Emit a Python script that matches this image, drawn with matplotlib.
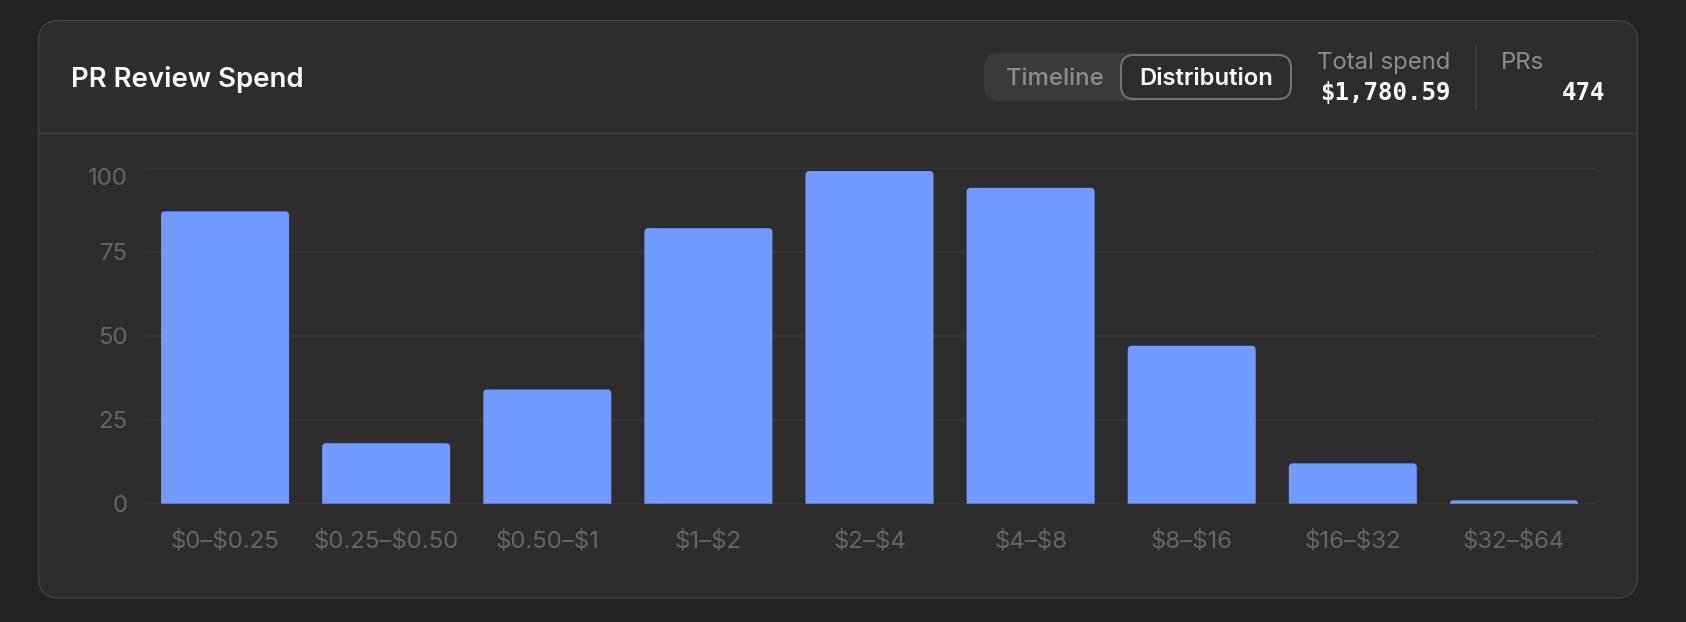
# PR review spend histogram, dark card layout
import matplotlib
matplotlib.use('Agg')
import matplotlib.pyplot as plt
from matplotlib.patches import FancyBboxPatch, PathPatch
from matplotlib.path import Path

plt.rc('font', family='Inter')

# Data (adds up to the 474 PRs in the header)
buckets = ['$0–$0.25', '$0.25–$0.50', '$0.50–$1', '$1–$2', '$2–$4',
           '$4–$8', '$8–$16', '$16–$32', '$32–$64']
pr_counts = [87, 18, 34, 82, 99, 94, 47, 12, 1]
y_ticks = [0, 25, 50, 75, 100]

W, H = 1686, 622
BG = '#232323'
CARD = '#2e2c2d'
BORDER = '#454445'
GRID = '#3b3a3b'
BAR = '#719bff'
MUTED = '#676667'
LABEL = '#8f8e8e'


def px(v):
    # font size / line width given in pixels, at dpi 100
    return v * 0.72


fig = plt.figure(figsize=(W / 100, H / 100), dpi=100, facecolor=BG)

# full figure layer in pixel coordinates for the card and header
bg = fig.add_axes([0, 0, 1, 1], zorder=0)
bg.set_xlim(0, W)
bg.set_ylim(H, 0)
bg.axis('off')


def rbox(x0, y0, x1, y1, r, fc, ec, lw=1.3):
    bg.add_patch(FancyBboxPatch((x0 + r, y0 + r), x1 - x0 - 2 * r, y1 - y0 - 2 * r,
                                boxstyle='round,pad=%f,rounding_size=%f' % (r, r),
                                fc=fc, ec=ec, lw=px(lw)))


rbox(38.5, 20.5, 1637.5, 598, 21, CARD, BORDER)
bg.plot([38.5, 1637.5], [133.3, 133.3], color=BORDER, lw=px(1.3), solid_capstyle='butt')
bg.plot([1475.7, 1475.7], [45, 109], color=BORDER, lw=px(1.5), solid_capstyle='butt')

bg.text(71, 87.3, 'PR Review Spend', color='white', fontsize=px(27.6), fontweight=600,
        ha='left', va='baseline')

# toggle
rbox(984, 53, 1291, 101, 15, '#3b3a3b', 'none', 0)
rbox(1121, 55, 1291, 99, 13, CARD, '#767576', 2)
bg.text(1055, 85, 'Timeline', color=LABEL, fontsize=px(24), fontweight=500,
        ha='center', va='baseline')
bg.text(1206, 85, 'Distribution', color='white', fontsize=px(23.8), fontweight=600,
        ha='center', va='baseline')

# header stats
bg.text(1450.5, 69, 'Total spend', color=LABEL, fontsize=px(23.8), ha='right', va='baseline')
bg.text(1451, 100.5, '$1,780.59', color='white', fontsize=px(24), family='DejaVu Sans Mono',
        fontweight='bold', ha='right', va='baseline', parse_math=False)
bg.text(1500.7, 69, 'PRs', color=LABEL, fontsize=px(24), ha='left', va='baseline')
bg.text(1605, 100.5, '474', color='white', fontsize=px(24), family='DejaVu Sans Mono',
        fontweight='bold', ha='right', va='baseline')

# plot area, 144.5..1594.5 px wide, y=100 at 167.7 px and y=0 at 503.7 px
ax = fig.add_axes([144.5 / W, 1 - 503.7 / H, 1450 / W, 336 / H], zorder=1)
ax.patch.set_visible(False)
ax.set_xlim(-0.5, len(buckets) - 0.5)
ax.set_ylim(0, 100)
for s in ax.spines.values():
    s.set_visible(False)
ax.set_axisbelow(True)
ax.yaxis.grid(True, color=GRID, lw=px(1.5))
ax.set_yticks(y_ticks)
ax.set_xticks(range(len(buckets)))
ax.set_xticklabels(buckets, parse_math=False)
ax.tick_params(axis='both', length=0, labelcolor=MUTED, labelsize=px(24))
ax.tick_params(axis='y', pad=px(17))
ax.tick_params(axis='x', pad=px(26))
# the top label hangs below its grid line
ax.get_yticklabels()[-1].set_verticalalignment('top')

bars = ax.bar(range(len(buckets)), pr_counts, width=128 / 161.1, color=BAR, lw=0)

# swap the square tops for slightly rounded ones
rx = 4 / 161.1
ry = 4 / 3.36
for b in bars:
    x0, x1 = b.get_x(), b.get_x() + b.get_width()
    h = b.get_height()
    r_y = min(ry, h)
    verts = [(x0, 0), (x0, h - r_y), (x0, h), (x0 + rx, h), (x1 - rx, h), (x1, h), (x1, h - r_y), (x1, 0), (x0, 0)]
    codes = [Path.MOVETO, Path.LINETO, Path.CURVE3, Path.CURVE3, Path.LINETO,
             Path.CURVE3, Path.CURVE3, Path.LINETO, Path.CLOSEPOLY]
    ax.add_patch(PathPatch(Path(verts, codes), fc=BAR, ec='none', lw=0, zorder=3))
    b.set_visible(False)

fig.savefig('out.png', dpi=100, facecolor=BG)
